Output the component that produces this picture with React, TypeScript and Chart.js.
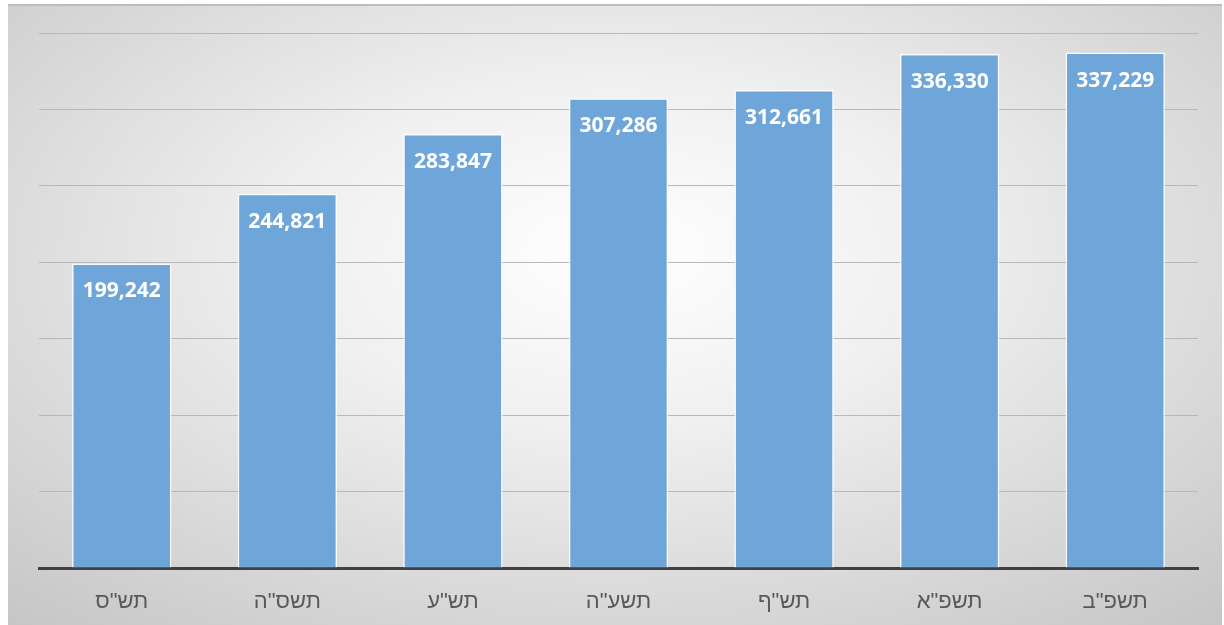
import React, { useEffect, useRef } from "react";
import { Chart, registerables } from "chart.js";

Chart.register(...registerables);

const categories: string[] = ['תש"ס', 'תשס"ה', 'תש"ע', 'תשע"ה', 'תש"ף', 'תשפ"א', 'תשפ"ב'];
const values: number[] = [199242, 244821, 283847, 307286, 312661, 336330, 337229];
const yMax = 350000;
const yStep = 50000;

const valueLabelPlugin = {
  id: "valueLabels",
  afterDatasetsDraw(chart: any) {
    const ctx = chart.ctx;
    const meta = chart.getDatasetMeta(0);
    ctx.save();
    ctx.fillStyle = "#ffffff";
    ctx.font = "bold 21px 'Open Sans', 'Liberation Sans', sans-serif";
    ctx.textAlign = "center";
    ctx.textBaseline = "middle";
    meta.data.forEach((bar: any, i: number) => {
      const v = values[i];
      ctx.fillText(v.toLocaleString("en-US"), bar.x, bar.y + 28);
    });
    ctx.restore();
  },
};

export default function App() {
  const ref = useRef<HTMLCanvasElement | null>(null);
  useEffect(() => {
    if (!ref.current) return;
    const chart = new Chart(ref.current, {
      type: "bar",
      data: {
        labels: categories,
        datasets: [
          {
            data: values,
            backgroundColor: "#6fa6d9",
            borderColor: "rgba(255,255,255,0.85)",
            borderWidth: 1.5,
            categoryPercentage: 0.6,
            barPercentage: 1,
          },
        ],
      },
      options: {
        animation: false,
        responsive: false,
        maintainAspectRatio: false,
        layout: { padding: { left: 31, right: 24, top: 27, bottom: 7 } },
        plugins: {
          legend: { display: false },
          tooltip: { enabled: false },
        },
        scales: {
          x: {
            grid: { display: false },
            border: { display: true, color: "#404040", width: 3 },
            ticks: {
              color: "#595959",
              padding: 13,
              font: { size: 22, family: "'Liberation Sans', 'DejaVu Sans', sans-serif" },
            },
            afterFit: (scale: any) => {
              scale.height = 50;
            },
          },
          y: {
            min: 0,
            max: yMax,
            ticks: { display: false, stepSize: yStep },
            grid: { color: "#b8b8b8", lineWidth: 1, drawTicks: false },
            border: { display: false },
          },
        },
      },
      plugins: [valueLabelPlugin],
    });
    return () => chart.destroy();
  }, []);

  return (
    <div
      style={{
        position: "absolute",
        left: 8,
        top: 4,
        width: 1214,
        height: 621,
        boxSizing: "border-box",
        borderTop: "2px solid #bdbdbd",
        background:
          "radial-gradient(ellipse 75% 80% at 50% 40%, #ffffff 0%, #f0f0f0 35%, #d6d6d6 75%, #c6c6c6 100%)",
      }}
    >
      <canvas ref={ref} width={1214} height={619} style={{ display: "block" }} />
    </div>
  );
}
